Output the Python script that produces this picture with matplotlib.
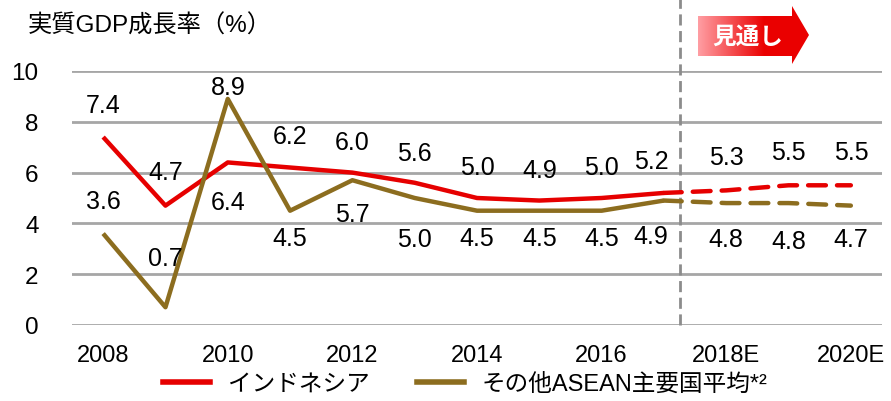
import numpy as np
import matplotlib
matplotlib.use('Agg')
import matplotlib.pyplot as plt
from matplotlib.patches import Polygon
from matplotlib.lines import Line2D

plt.rcParams['font.family'] = ['Liberation Sans', 'Noto Sans CJK JP', 'DejaVu Sans']

years = [2008, 2009, 2010, 2011, 2012, 2013, 2014, 2015, 2016, 2017, 2018, 2019, 2020]
indonesia = [7.4, 4.7, 6.4, 6.2, 6.0, 5.6, 5.0, 4.9, 5.0, 5.2, 5.3, 5.5, 5.5]
asean = [3.6, 0.7, 8.9, 4.5, 5.7, 5.0, 4.5, 4.5, 4.5, 4.9, 4.8, 4.8, 4.7]
tick_years = [2008, 2010, 2012, 2014, 2016, 2018, 2020]
tick_labels = ['2008', '2010', '2012', '2014', '2016', '2018E', '2020E']
last_actual = 2017
name_ind = 'インドネシア'
name_asean = 'その他ASEAN主要国平均*²'

# label offsets in pixels (dy), tuned by eye
off_ind = [32, 34, -40, 32, 31, 30, 31, 31, 31, 32, 33, 33, 33]
off_asean = [33, 49, 12, -27, -34, -41, -27, -27, -27, -35, -36, -38, -33]
dx = {2017: -13}

red = '#E60000'
olive = '#8C6D1F'
grid_c = '#A6A6A6'

fig = plt.figure(figsize=(8.91, 4.02), dpi=100)
ax = fig.add_axes([72/891, 1-326/402, 810/891, 254/402])

yrs = np.array(years)
ind = np.array(indonesia)
ase = np.array(asean)
act = yrs <= last_actual
fc = yrs >= last_actual

ax.plot(yrs[act], ind[act], color=red, lw=3.2, solid_capstyle='butt', zorder=3)
ax.plot(yrs[act], ase[act], color=olive, lw=3.2, solid_capstyle='butt', zorder=3)
ax.plot(yrs[fc], ind[fc], color=red, lw=3.2, ls=(0, (4, 2.5)), dash_capstyle='round', zorder=3)
ax.plot(yrs[fc], ase[fc], color=olive, lw=3.2, ls=(0, (4, 2.5)), dash_capstyle='round', zorder=3)

for i, y in enumerate(years):
    ax.annotate(f'{indonesia[i]:.1f}', (y, indonesia[i]), xytext=(dx.get(y, 0), off_ind[i]),
                textcoords='offset pixels', ha='center', va='center', fontsize=18)
    ax.annotate(f'{asean[i]:.1f}', (y, asean[i]), xytext=(dx.get(y, 0), off_asean[i]),
                textcoords='offset pixels', ha='center', va='center', fontsize=18)

ax.set_xlim(2007.5, 2020.5)
ax.set_ylim(0, 10)
ax.set_yticks(range(0, 11, 2))
ax.set_xticks(tick_years)
ax.set_xticklabels(tick_labels, fontsize=17)
ax.tick_params(axis='y', length=0, pad=24, labelsize=17.5)
ax.tick_params(axis='x', length=0, pad=14)
ax.grid(axis='y', color=grid_c, lw=2)
ax.set_axisbelow(True)
for s in ax.spines.values():
    s.set_visible(False)

ax.axvline(last_actual + 0.25, ymin=0, ymax=326/254, color='#8C8C8C', lw=2,
           ls=(0, (4, 2)), clip_on=False, zorder=2)

fig.text(28/891, 1-26/402, '実質GDP成長率（%）', ha='left', va='center', fontsize=17.5)

# forecast arrow
ov = fig.add_axes([0, 0, 1, 1])
ov.axis('off')
ov.patch.set_alpha(0)
pts = [(698, 17), (792, 17), (792, 7), (809, 36), (792, 65), (792, 57), (698, 57)]
poly = Polygon(pts, closed=True, fc='none', ec='none')
ov.add_patch(poly)
t = np.clip(np.linspace(0, 1, 200) / 0.6, 0, 1)
grad = np.zeros((1, 200, 3))
grad[0, :, 0] = 1.0 - 0.08 * t
grad[0, :, 1] = 0.62 * (1 - t)
grad[0, :, 2] = 0.64 * (1 - t)
im = ov.imshow(grad, extent=(698, 809, 65, 7), aspect='auto', interpolation='bilinear')
im.set_clip_path(poly)
ov.text(748, 37, '見通し', color='white', fontsize=17, fontweight='bold',
        ha='center', va='center', family=['Noto Sans CJK JP'])
ov.set_xlim(0, 891)
ov.set_ylim(402, 0)

h1 = Line2D([], [], color=red, lw=4)
h2 = Line2D([], [], color=olive, lw=4)
fig.legend([h1, h2], [name_ind, name_asean], loc='center', bbox_to_anchor=(0.522, 1-385/402),
           ncol=2, frameon=False, fontsize=17, handlelength=2.0, handletextpad=0.75,
           columnspacing=2.0, borderpad=0)

fig.savefig('out.png', dpi=100)
